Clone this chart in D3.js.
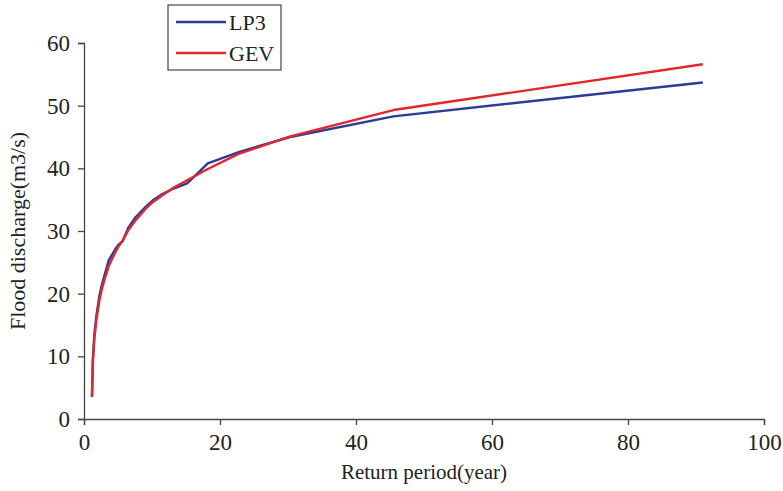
<!DOCTYPE html>
<html>
<head>
<meta charset="utf-8">
<script src="https://cdn.jsdelivr.net/npm/d3@7"></script>
<style>
  body { margin: 0; background: #fff; }
  svg { font-family: "Liberation Serif", "DejaVu Serif", serif; }
</style>
</head>
<body>
<div id="chart"></div>
<script>
// return periods (plotting positions) and flood discharges
const returnPeriod = [1.17, 1.3, 1.52, 1.82, 2.28, 2.6, 3.03, 3.64, 4.55, 5.06, 5.69, 6.5,
  7.58, 9.1, 10.11, 11.38, 13, 15.17, 18.2, 22.75, 30.33, 45.5, 91];
const lp3 = [3.5, 9.5, 13.5, 16.5, 19.7, 21.3, 23.0, 25.3, 27.0, 27.8, 28.4, 30.5,
  32.2, 33.9, 34.9, 35.8, 36.7, 37.6, 40.8, 42.6, 45.0, 48.3, 53.7];
const gev = [3.6, 9.0, 12.8, 15.8, 19.0, 20.6, 22.3, 24.4, 26.5, 27.5, 28.5, 30.1,
  31.7, 33.6, 34.6, 35.6, 36.8, 38.1, 39.9, 42.3, 45.1, 49.3, 56.6];
const seriesNames = ['LP3', 'GEV'];
const xTicks = [0, 20, 40, 60, 80, 100];
const yTicks = [0, 10, 20, 30, 40, 50, 60];

const width = 783, height = 491;
const margin = { top: 43, right: 19, bottom: 72, left: 84 };

const svg = d3.select('#chart')
  .append('svg')
  .attr('width', width)
  .attr('height', height);

const x = d3.scaleLinear().domain([0, 100]).range([margin.left, width - margin.right]);
const y = d3.scaleLinear().domain([0, 60]).range([height - margin.bottom, margin.top]);

const color = d3.scaleOrdinal().domain(seriesNames).range(['#2b3b98', '#e3262b']);

// axes
const xAxis = svg.append('g')
  .attr('transform', `translate(0,${y(0)})`)
  .call(d3.axisBottom(x).tickValues(xTicks).tickSizeOuter(0).tickSize(6).tickPadding(9));

const yAxis = svg.append('g')
  .attr('transform', `translate(${x(0)},0)`)
  .call(d3.axisLeft(y).tickValues(yTicks).tickSizeOuter(0).tickSize(6).tickPadding(8));

[xAxis, yAxis].forEach(g => {
  g.select('.domain').attr('stroke', '#444').attr('stroke-width', 1.3);
  g.selectAll('.tick line').attr('stroke', '#444').attr('stroke-width', 1.3);
  g.selectAll('.tick text')
    .attr('fill', '#222')
    .style('font-family', '"Liberation Serif", serif')
    .style('font-size', '23px');
});

// axis titles
svg.append('text')
  .attr('x', (x(0) + x(100)) / 2)
  .attr('y', 479)
  .attr('text-anchor', 'middle')
  .attr('fill', '#222')
  .style('font-size', '21px')
  .text('Return period(year)');

svg.append('text')
  .attr('transform', `translate(25,${(y(0) + y(60)) / 2}) rotate(-90)`)
  .attr('text-anchor', 'middle')
  .attr('fill', '#222')
  .style('font-size', '22px')
  .text('Flood discharge(m3/s)');

// lines
const line = d3.line()
  .x(d => x(d[0]))
  .y(d => y(d[1]));

const series = [
  { name: 'LP3', values: returnPeriod.map((t, i) => [t, lp3[i]]) },
  { name: 'GEV', values: returnPeriod.map((t, i) => [t, gev[i]]) }
];

svg.selectAll('.series')
  .data(series)
  .enter().append('path')
  .attr('class', 'series')
  .attr('d', d => line(d.values))
  .attr('fill', 'none')
  .attr('stroke', d => color(d.name))
  .attr('stroke-width', 2.4)
  .attr('stroke-linejoin', 'round');

// legend
const legend = svg.append('g').attr('transform', 'translate(168,5)');
legend.append('rect')
  .attr('width', 113)
  .attr('height', 65)
  .attr('fill', '#fff')
  .attr('stroke', '#444')
  .attr('stroke-width', 1.2);

const items = legend.selectAll('.item')
  .data(seriesNames)
  .enter().append('g')
  .attr('class', 'item')
  .attr('transform', (d, i) => `translate(0,${17 + i * 31})`);

items.append('line')
  .attr('x1', 8).attr('x2', 58)
  .attr('stroke', d => color(d))
  .attr('stroke-width', 2.4);

items.append('text')
  .attr('x', 61)
  .attr('dy', '0.35em')
  .attr('fill', '#222')
  .style('font-size', '22px')
  .text(d => d);
</script>
</body>
</html>
